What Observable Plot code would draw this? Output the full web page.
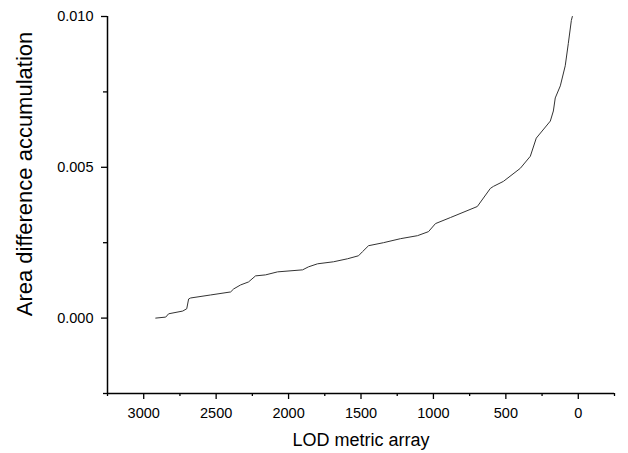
<!DOCTYPE html>
<html>
<head>
<meta charset="utf-8">
<script src="https://cdn.jsdelivr.net/npm/d3@7"></script>
<script src="https://cdn.jsdelivr.net/npm/@observablehq/plot@0.6"></script>
<style>
  html, body { margin: 0; padding: 0; background: #fff; }
  #chart svg { display: block; }
</style>
</head>
<body>
<div id="chart"></div>
<script>
// LOD metric array values (x) and accumulated area difference (y)
const lodValues = [2917, 2848, 2828, 2731, 2703, 2690, 2676, 2538, 2400, 2379, 2331, 2276, 2228, 2159, 2076,
  1903, 1862, 1800, 1690, 1593, 1517, 1490, 1448, 1345, 1228, 1110, 1034, 986, 883, 697,
  607, 586, 517, 400, 331, 290, 193, 172, 159, 124, 90, 69, 48, 41];
const areaValues = [0.00000, 0.000033, 0.000143, 0.000233, 0.00031, 0.000633, 0.000667, 0.000767, 0.000867, 0.000967,
  0.0011, 0.0012, 0.0014, 0.001433, 0.001533, 0.0016, 0.0017, 0.0018, 0.001867, 0.001967,
  0.002067, 0.0022, 0.0024, 0.0025, 0.002633, 0.002733, 0.002867, 0.003133, 0.003333, 0.0037,
  0.0043, 0.004367, 0.004533, 0.004967, 0.005367, 0.005967, 0.006533, 0.006867, 0.0073, 0.0077,
  0.008367, 0.0091, 0.009867, 0.0100];

const xMajorTicks = [3000, 2500, 2000, 1500, 1000, 500, 0];
const xMinorTicks = [3250, 2750, 2250, 1750, 1250, 750, 250, -250];
const yMajorTicks = [0.000, 0.005, 0.010];
const yMinorTicks = [-0.0025, 0.0025, 0.0075];
const xTitle = "LOD metric array";
const yTitle = "Area difference accumulation";

const data = lodValues.map((v, i) => ({lod: v, area: areaValues[i]}));
const font = "'Liberation Sans', Arial, Helvetica, sans-serif";

const chart = Plot.plot({
  width: 628,
  height: 453,
  marginLeft: 107,
  marginRight: 14,
  marginTop: 16,
  marginBottom: 60,
  style: {fontFamily: font, color: "#000", background: "#fff"},
  x: {domain: [3250, -250]},
  y: {domain: [-0.0025, 0.010]},
  marks: [
    Plot.axisX(xMinorTicks, {tickSize: 3, tickFormat: () => "", label: null, strokeWidth: 1.3}),
    Plot.axisX(xMajorTicks, {tickSize: 6, tickPadding: 8, fontSize: 14.5, label: null, strokeWidth: 1.3, tickFormat: d3.format("d")}),
    Plot.axisY(yMinorTicks, {tickSize: 4, tickFormat: () => "", label: null, strokeWidth: 1.3}),
    Plot.axisY(yMajorTicks, {tickSize: 6, tickPadding: 8, fontSize: 14.5, label: null, strokeWidth: 1.3, tickFormat: d3.format(".3f")}),
    Plot.ruleY([-0.0025], {stroke: "#000", strokeWidth: 1.5}),
    Plot.ruleX([3250], {stroke: "#000", strokeWidth: 1.5}),
    Plot.line(data, {x: "lod", y: "area", stroke: "#333", strokeWidth: 1}),
    Plot.text([xTitle], {frameAnchor: "bottom", dy: 47, lineAnchor: "middle", textAnchor: "middle", fontSize: 18, fill: "#000"}),
    Plot.text([yTitle], {frameAnchor: "left", dx: -83, dy: -31, rotate: -90, lineAnchor: "middle", textAnchor: "middle", fontSize: 22, fill: "#000"})
  ]
});
document.getElementById("chart").appendChild(chart);
</script>
</body>
</html>
